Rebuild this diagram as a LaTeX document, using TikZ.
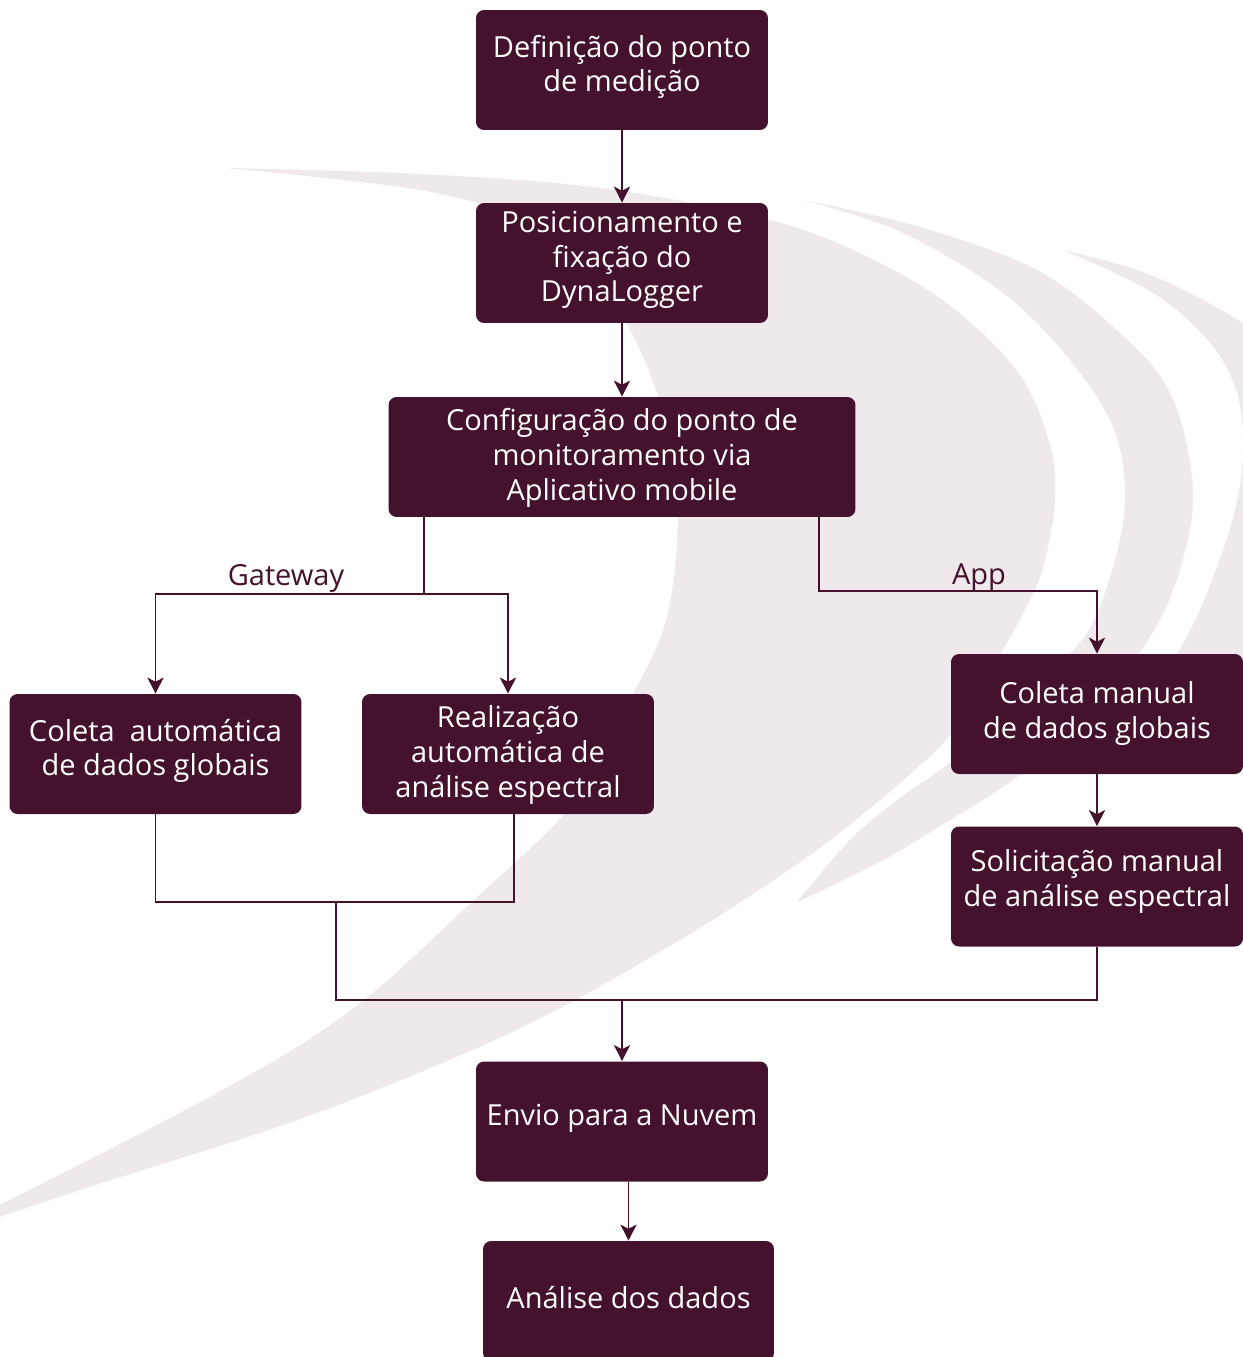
\documentclass[tikz,border=0pt]{standalone}
\usepackage{fontspec}
\setmainfont{Open Sans}
\usepackage{tikz}
\usetikzlibrary{arrows.meta, positioning}
\definecolor{darkwine}{HTML}{45122E}
\definecolor{palerose}{HTML}{EFE9EC}

\begin{document}
\begin{tikzpicture}[
    x=0.02cm, y=-0.02cm,
    box/.style={rectangle, fill=darkwine, text=white, rounded corners=0.16cm, minimum width=5.84cm, minimum height=2.4cm, inner sep=0pt, text depth=7.5pt, align=center, font=\fontsize{16.5}{19.8}\selectfont},
    branch/.style={text=darkwine, inner sep=0pt, font=\fontsize{16.5}{19.8}\selectfont},
    link/.style={draw=darkwine, line width=1.1pt},
    arrow/.style={link, -{Stealth[length=0.32cm, width=0.32cm, inset=0.08cm]}},
    swoosh/.style={fill=palerose}
]
\useasboundingbox (0,0) rectangle (1243,1357);

% Background swooshes
\begin{scope}
\clip (0,0) rectangle (1243,1357);
\fill[swoosh] plot[smooth, tension=0.6] coordinates {(225,168) (420,174) (600,188) (770,220) (870,258) (953,308) (1020,375) (1050,445) (1055,500) (1045,560) (1030,600) (993,667) (952,733) (880,800) (793,867) (663,950) (510,1033) (306,1117) (102,1183) (-15,1222)}
    -- plot[smooth, tension=0.6] coordinates {(-15,1212) (204,1100) (347,1013) (474,900) (576,800) (630,700) (666,620) (678,520) (670,440) (640,350) (590,270) (520,220) (420,190) (225,168)} -- cycle;
\fill[swoosh] plot[smooth, tension=0.6] coordinates {(803,200) (920,227) (1037,270) (1120,333) (1170,393) (1192,477) (1187,543) (1160,620) (1110,690) (1060,740) (1013,780) (950,820) (880,862) (797,902)}
    -- plot[smooth, tension=0.6] coordinates {(797,902) (850,840) (897,800) (940,770) (990,730) (1040,680) (1087,633) (1115,560) (1125,493) (1113,427) (1070,360) (1003,293) (903,233) (803,200)} -- cycle;
\fill[swoosh] plot[smooth, tension=0.6] coordinates {(1063,250) (1137,270) (1203,300) (1260,340) (1300,420) (1310,500) (1290,590) (1250,650) (1190,700) (1110,740)}
    -- plot[smooth, tension=0.6] coordinates {(1110,740) (1150,690) (1185,640) (1212,580) (1235,510) (1243,450) (1237,393) (1210,343) (1153,293) (1063,250)} -- cycle;
\end{scope}

% Main column
\node[box] (defin) at (622,70) {Definição do ponto\\de medição};
\node[box] (posic) at (622,263) {Posicionamento e\\fixação do\\DynaLogger};
\node[box, minimum width=9.34cm, text depth=3pt] (config) at (622,457) {Configuração do ponto de\\monitoramento via\\Aplicativo mobile};

\draw[arrow] (defin) -- (posic);
\draw[arrow] (posic) -- (config);

% Gateway branch
\node[box] (colauto) at (155.5,754) {Coleta~~automática\\de dados globais};
\node[box, text depth=3pt] (realiz) at (508,754) {Realização\\automática de\\análise espectral};
\node[branch] (gwlabel) at (286,578) {Gateway};

\coordinate (gwsplit) at (424,594);
\draw[link] (config.south -| gwsplit) -- (gwsplit);
\draw[arrow] (gwsplit) -| (colauto);
\draw[arrow] (gwsplit) -| (realiz);

% App branch
\node[box, text depth=5pt] (colman) at (1097,714) {Coleta manual\\de dados globais};
\node[box, text depth=10pt] (solic) at (1097,886.5) {Solicitação manual\\de análise espectral};
\node[branch] (applabel) at (979,578) {App};

\coordinate (appsplit) at (819,591);
\draw[arrow] (config.south -| appsplit) -- (appsplit) -| (colman);
\draw[arrow] (colman) -- (solic);

% Merge
\coordinate (gwjoin) at (336,902);
\coordinate (rjoin) at (514,902);
\coordinate (bus) at (336,1000);
\draw[link] (colauto.south) -- (colauto.south |- gwjoin) -- (rjoin) -- (rjoin |- realiz.south);
\draw[link] (gwjoin) -- (bus) -- (bus -| solic) -- (solic.south);

% Output
\node[box] (envio) at (622,1121.5) {Envio para a Nuvem};
\node[box, minimum width=5.82cm, text depth=4.5pt] (analise) at (628.5,1301) {Análise dos dados};

\draw[arrow] (bus -| envio) -- (envio);
\draw[arrow] (envio.south -| analise) -- (analise);

\end{tikzpicture}
\end{document}
